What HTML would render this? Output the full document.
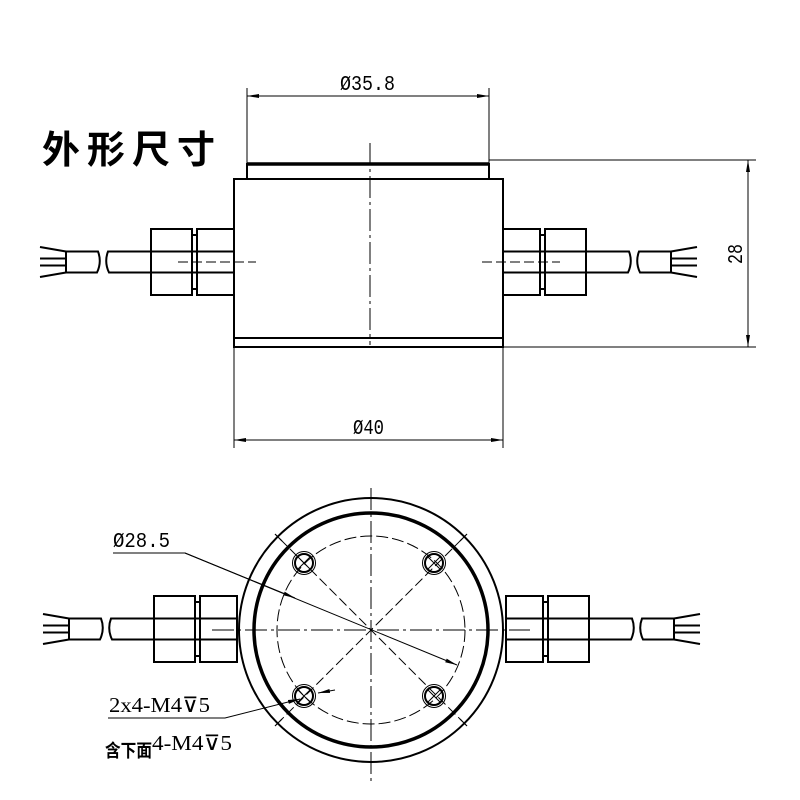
<!DOCTYPE html>
<html><head><meta charset="utf-8"><style>body{margin:0;background:#fff}svg{display:block}</style></head>
<body>
<svg width="800" height="800" viewBox="0 0 800 800" xmlns="http://www.w3.org/2000/svg" font-family="Liberation Mono, DejaVu Sans Mono, monospace">
<defs>
<marker id="a" markerWidth="12" markerHeight="6" refX="12" refY="3" orient="auto" markerUnits="userSpaceOnUse"><path d="M0,1 L12,3 L0,5z" fill="#000"/></marker>
<marker id="b" markerWidth="12" markerHeight="6" refX="0" refY="3" orient="auto" markerUnits="userSpaceOnUse"><path d="M12,1 L0,3 L12,5z" fill="#000"/></marker>
<g id="conn" fill="none" stroke="#000" stroke-width="2">
<rect x="151" y="-33" width="41" height="66"/>
<rect x="197" y="-33" width="37" height="66"/>
<line x1="192" y1="-27" x2="197" y2="-27"/><line x1="192" y1="27" x2="197" y2="27"/>
<line x1="151" y1="-10.5" x2="234" y2="-10.5"/><line x1="151" y1="10.5" x2="234" y2="10.5"/>
<path d="M151,-10.5 H108 Q104,0 109,10.5 H151"/>
<path d="M66,-10.5 H98 Q102,0 97,10.5 H66 Z"/>
<line x1="66" y1="-10.5" x2="40" y2="-15"/><line x1="66" y1="-3.5" x2="40" y2="-3.5"/>
<line x1="66" y1="3.5" x2="40" y2="3.5"/><line x1="66" y1="10.5" x2="40" y2="15"/>
</g>
</defs>
<text x="42" y="163" font-family="Liberation Sans, Noto Sans CJK SC, sans-serif" font-size="38" font-weight="bold" textLength="173" lengthAdjust="spacing">外形尺寸</text>

<g fill="none" stroke="#000">
<rect x="234" y="179" width="269" height="168" stroke-width="2"/>
<rect x="247" y="164" width="242" height="15" stroke-width="2"/>
<line x1="247" y1="164" x2="489" y2="164" stroke-width="3.5"/>
<path d="M234,338 H503 M234,347 H503" stroke-width="2"/>
<line x1="370" y1="143" x2="370" y2="345" stroke-width="1" stroke-dasharray="22,4,3,4"/>
<line x1="178" y1="262" x2="256" y2="262" stroke-width="1" stroke-dasharray="10,4"/>
<line x1="482" y1="262" x2="560" y2="262" stroke-width="1" stroke-dasharray="10,4"/>
<g stroke-width="1">
<line x1="247" y1="88" x2="247" y2="164"/><line x1="489" y1="88" x2="489" y2="164"/>
<line x1="247" y1="96" x2="489" y2="96" marker-start="url(#b)" marker-end="url(#a)"/>
<line x1="234" y1="347" x2="234" y2="448"/><line x1="503" y1="347" x2="503" y2="448"/>
<line x1="234" y1="440" x2="503" y2="440" marker-start="url(#b)" marker-end="url(#a)"/>
<line x1="489" y1="160" x2="756" y2="160"/><line x1="503" y1="347" x2="756" y2="347"/>
<line x1="748" y1="160" x2="748" y2="347" marker-start="url(#b)" marker-end="url(#a)"/>
</g>
</g>
<use href="#conn" transform="translate(0,262)"/>
<use href="#conn" transform="translate(737,262) scale(-1,1)"/>
<text x="340" y="90" font-size="21" textLength="55" lengthAdjust="spacingAndGlyphs">Ø35.8</text>
<text x="353" y="434" font-size="21" textLength="31" lengthAdjust="spacingAndGlyphs">Ø40</text>
<text transform="translate(742,254) rotate(-90)" font-size="21" text-anchor="middle" textLength="20" lengthAdjust="spacingAndGlyphs">28</text>

<g fill="none" stroke="#000">
<circle cx="371" cy="630" r="132" stroke-width="2"/>
<circle cx="371" cy="630" r="117" stroke-width="3.5"/>
<circle cx="371" cy="630" r="94" stroke-width="1" stroke-dasharray="12,4"/>
<line x1="371" y1="488" x2="371" y2="782" stroke-width="1" stroke-dasharray="22,4,3,4"/>
<line x1="212" y1="630" x2="530" y2="630" stroke-width="1" stroke-dasharray="22,4,3,4"/>
<g stroke-width="1" stroke-dasharray="10,4">
<line x1="280" y1="539" x2="462" y2="721"/><line x1="462" y1="539" x2="280" y2="721"/>
</g>
<g stroke-width="1.2">
<line x1="282" y1="541" x2="275" y2="534"/><line x1="460" y1="541" x2="467" y2="534"/>
<line x1="282" y1="719" x2="275" y2="726"/><line x1="460" y1="719" x2="467" y2="726"/>
</g>
<g id="h"><circle cx="304" cy="563" r="11.5" stroke-width="1"/><circle cx="304" cy="563" r="9" stroke-width="2"/>
<path d="M297,556 L311,570 M311,556 L297,570" stroke-width="1"/></g>
<use href="#h" transform="translate(130,0)"/><use href="#h" transform="translate(0,133)"/><use href="#h" transform="translate(130,133)"/>
<g stroke-width="1">
<polyline points="113,553 185,553 457,665" marker-end="url(#a)"/>
<line x1="185" y1="553" x2="295" y2="598" marker-end="url(#a)"/>
<polyline points="108,718 225,718 300,699" marker-end="url(#a)"/>
<line x1="335" y1="690" x2="318" y2="693" marker-end="url(#a)"/>
</g>
</g>
<use href="#conn" transform="translate(3,629)"/>
<use href="#conn" transform="translate(740,629) scale(-1,1)"/>
<text x="113" y="547" font-size="21" textLength="57" lengthAdjust="spacingAndGlyphs">Ø28.5</text>
<text x="109" y="712" font-size="21" font-family="Liberation Serif, DejaVu Serif, serif" textLength="101" lengthAdjust="spacingAndGlyphs">2x4-M4⊽5</text>
<text x="105" y="757" font-family="Liberation Sans, Noto Sans CJK SC, sans-serif" font-size="18" font-weight="bold" textLength="47" lengthAdjust="spacingAndGlyphs">含下面</text>
<text x="152" y="750" font-size="21" font-family="Liberation Serif, DejaVu Serif, serif" textLength="80" lengthAdjust="spacingAndGlyphs">4-M4⊽5</text>
</svg>
</body></html>
